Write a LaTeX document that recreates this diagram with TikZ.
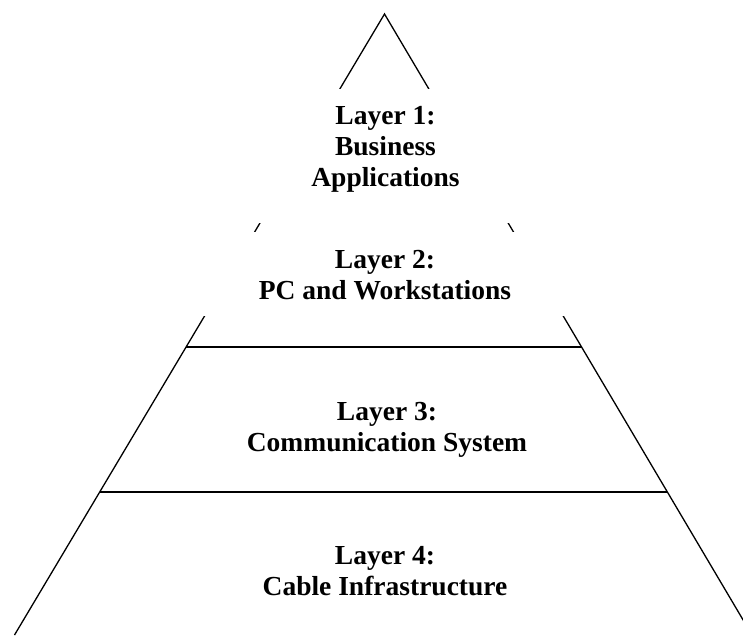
\documentclass[tikz,border=0pt]{standalone}
\usepackage{fontspec}
\setmainfont{Liberation Serif}
\usetikzlibrary{calc}
\begin{document}
\begin{tikzpicture}[x=1pt,y=-1pt,
  edge/.style={line width=1.3pt},
  mask/.style={fill=white, draw=none, inner sep=0pt},
  layertext/.style={font=\fontsize{27.5}{31}\selectfont\bfseries, align=center, inner sep=0pt}]
\useasboundingbox (0,0) rectangle (743,635);
\clip (0,0) rectangle (743,635);
\coordinate (apex) at (384.5,14);
\coordinate (bl) at (14.5,635);
\coordinate (br) at (752,635);
\draw[edge] (bl) -- (apex) -- (br);
\draw[edge] ($(apex)!0.5362!(bl)$) coordinate (h1l) -- ($(apex)!0.5362!(br)$) coordinate (h1r);
\draw[edge] ($(apex)!0.7697!(bl)$) coordinate (h2l) -- ($(apex)!0.7697!(br)$) coordinate (h2r);
\node[mask, minimum width=270pt, minimum height=134pt] (box1) at (384.5,156) {};
\node[mask, minimum width=390pt, minimum height=84pt] (box2) at (384.5,274) {};
\node[layertext] (l1) at (385.5,149.5) {Layer 1:\\Business\\Applications};
\node[layertext] (l2) at (385,275.2) {Layer 2:\\PC and Workstations};
\node[layertext] (l3) at (387,430) {Layer 3:\\Communication System};
\node[layertext] (l4) at (385,571.2) {Layer 4:\\Cable Infrastructure};
\end{tikzpicture}
\end{document}
